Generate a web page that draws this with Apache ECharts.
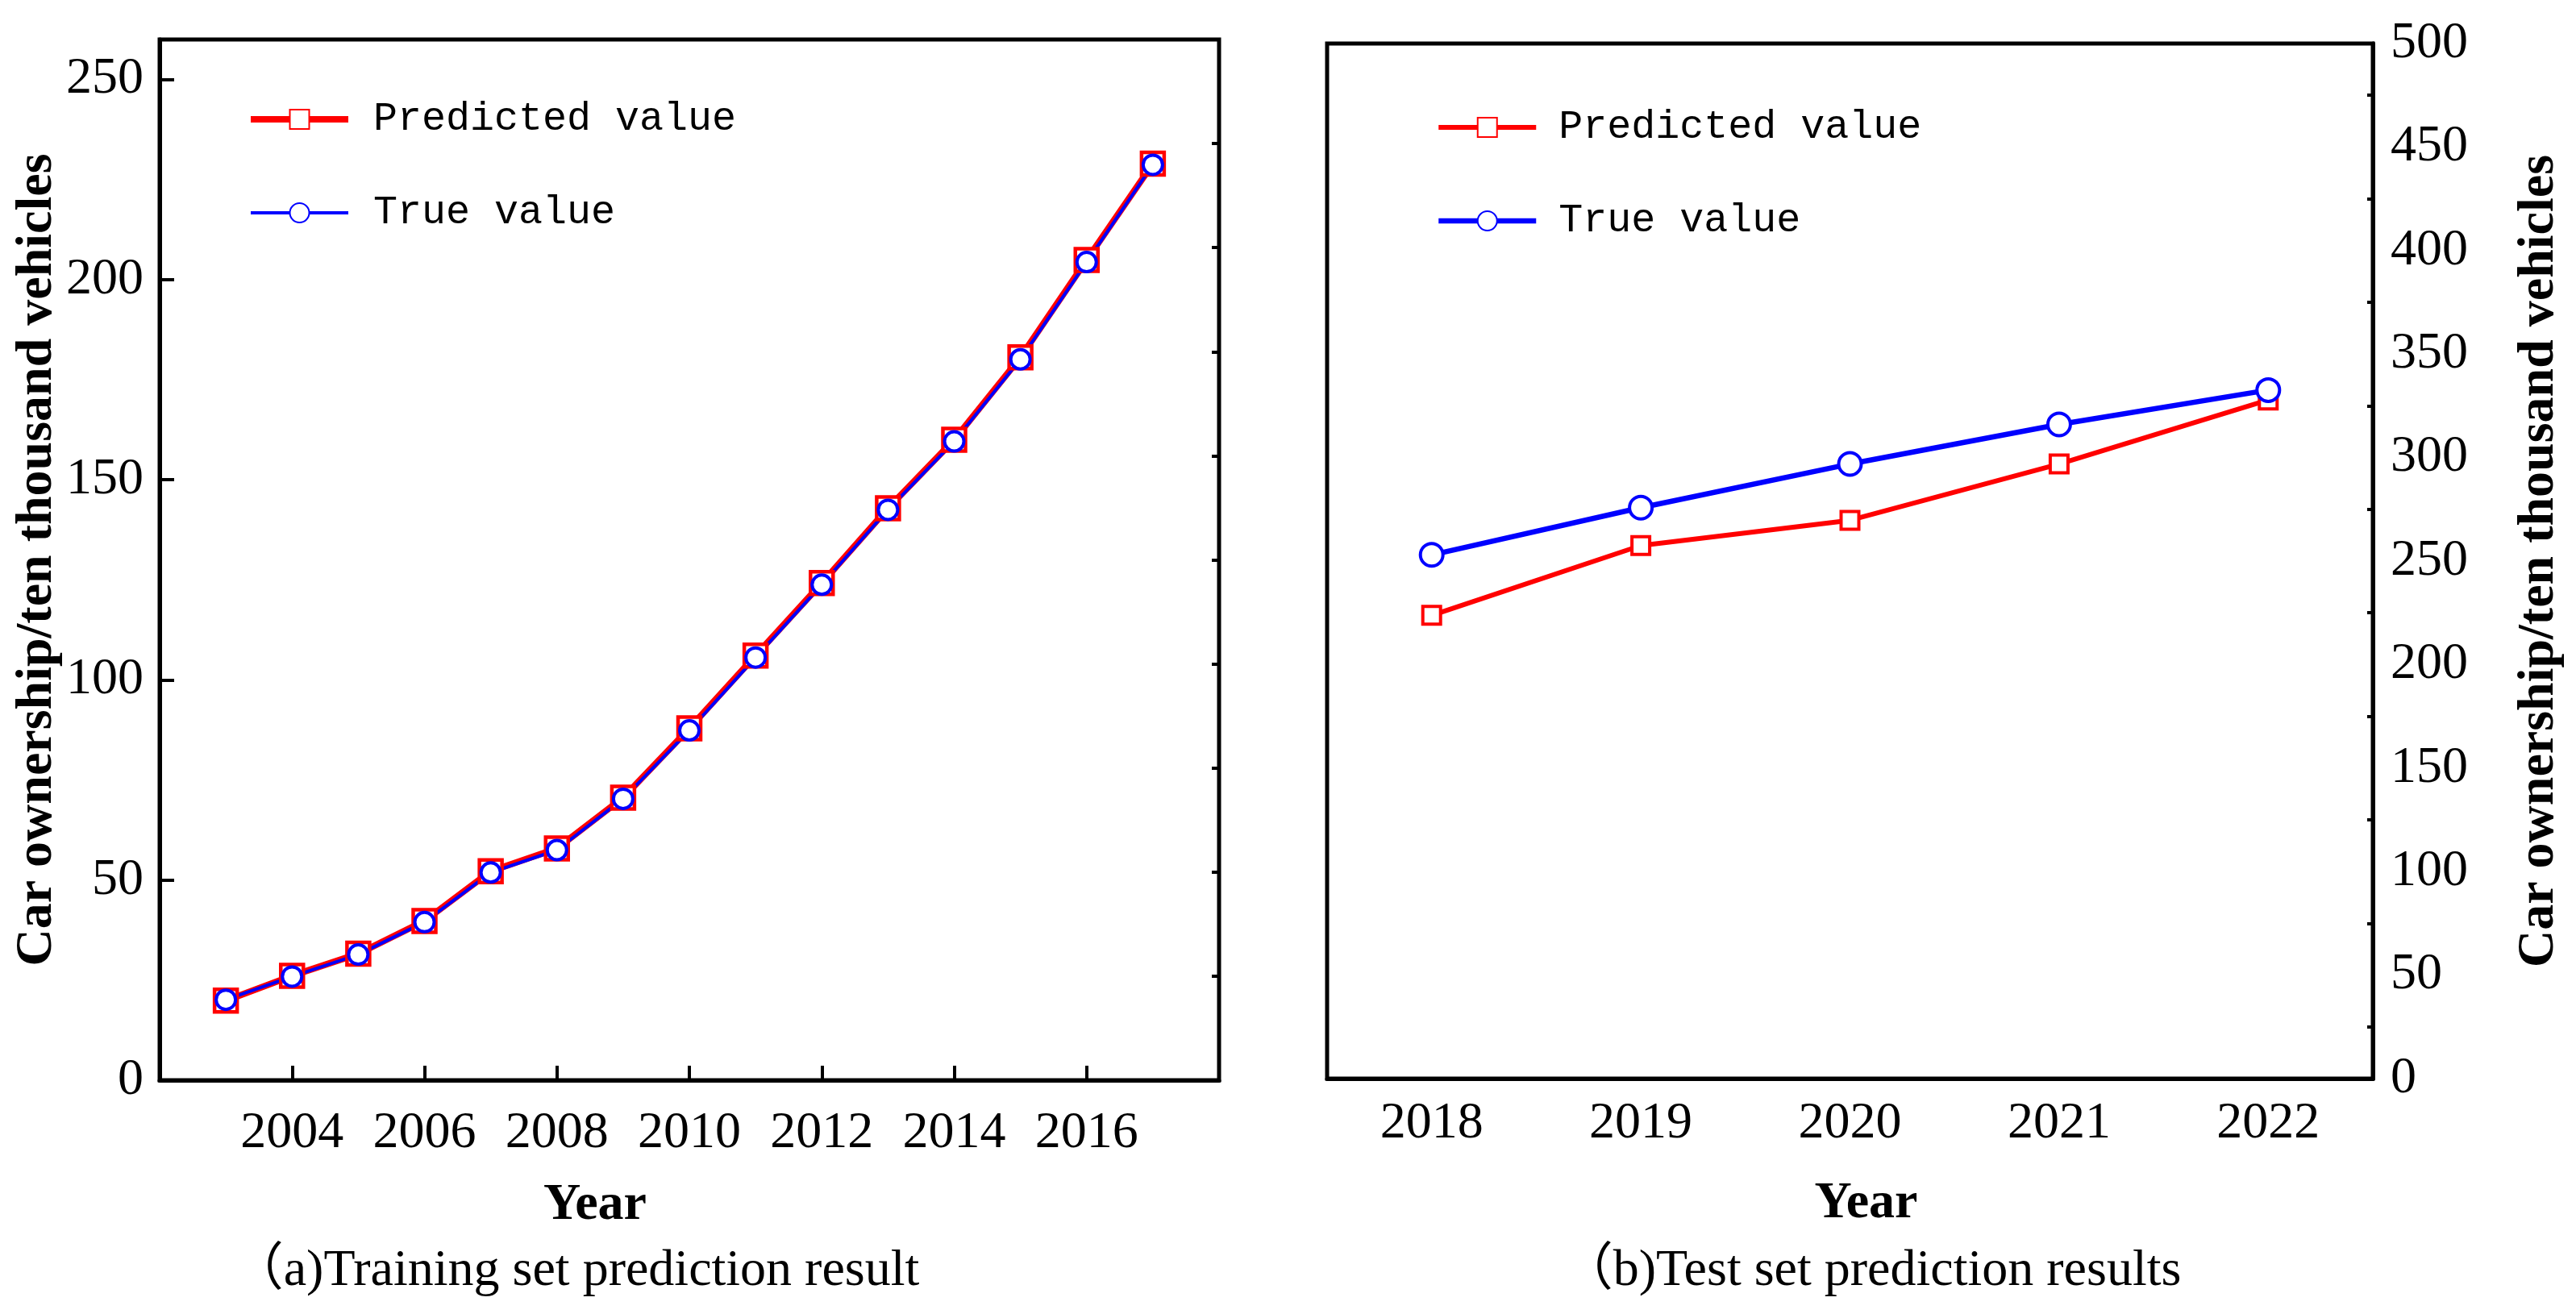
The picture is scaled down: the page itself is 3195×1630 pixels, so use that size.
<!DOCTYPE html>
<html>
<head>
<meta charset="utf-8">
<title>Car ownership prediction</title>
<script src="https://cdn.jsdelivr.net/npm/echarts@6/dist/echarts.min.js"></script>
<style>
  html, body { margin: 0; padding: 0; background: #fff; }
  #chart { width: 3195px; height: 1630px; }
</style>
</head>
<body>
<div id="chart"></div>
<script>
// training set (a)
var trainYears = [2003, 2004, 2005, 2006, 2007, 2008, 2009, 2010, 2011, 2012, 2013, 2014, 2015, 2016, 2017];
var trainPredicted = [19.9, 26.1, 31.6, 39.8, 52.2, 57.9, 70.6, 87.9, 106.1, 124.2, 142.9, 160.0, 180.6, 204.9, 229.0];
var trainTrue = [20.1, 25.9, 31.4, 39.5, 51.9, 57.5, 70.3, 87.4, 105.6, 123.8, 142.5, 159.6, 180.1, 204.4, 228.7];

// test set (b)
var testYears = ['2018', '2019', '2020', '2021', '2022'];
var testPredicted = [223.8, 257.5, 269.7, 296.9, 327.8];
var testTrue = [253.0, 275.8, 296.9, 316.0, 332.6];

var seriesNames = ['Predicted value', 'True value'];
var captions = ['（a)Training set prediction result', '（b)Test set prediction results'];
var yTitle = 'Car ownership/ten thousand vehicles';
var xTitle = 'Year';

var SERIF = "'Liberation Serif', 'Times New Roman', 'Noto Sans CJK SC', serif";
var MONO = "'Liberation Mono', 'DejaVu Sans Mono', monospace";

var extend = echarts.util.extend;

var pairs = function(xs, ys){
	var out = [];
	for (var i = 0; i < xs.length; i++) out.push([xs[i], ys[i]]);
	return out;
};

//图例项: 线宽与系列一致
var legendItems = function(widths){
	return seriesNames.map(function(n, i){
		return { name: n, lineStyle: { width: widths[i] } };
	});
};

var frameLine = { show: true, lineStyle: { color: '#000', width: 5 } };
var titleStyle = { color: '#000', fontFamily: SERIF, fontSize: 64, fontWeight: 'bold' };
var captionStyle = { color: '#000', fontFamily: SERIF, fontSize: 64, fontWeight: 'normal' };
var legendText = { color: '#000', fontFamily: MONO, fontSize: 50 };

var chart = echarts.init(document.getElementById('chart'), null, { renderer: 'canvas' });

chart.setOption({
	backgroundColor: '#fff',
	animation: false,
	title: [
		{ text: captions[0], left: 709, top: 1540, textAlign: 'center', textStyle: captionStyle },
		{ text: captions[1], left: 2316, top: 1540, textAlign: 'center', textStyle: captionStyle }
	],
	legend: [
		{ data: legendItems([8, 4]), orient: 'vertical', left: 302, top: 118,
		  itemWidth: 121, itemHeight: 30, itemGap: 66,
		  textStyle: extend({ padding: [0, 0, 0, 26] }, legendText) },
		{ data: legendItems([6, 6.5]), orient: 'vertical', left: 1776, top: 128,
		  itemWidth: 121, itemHeight: 30, itemGap: 66,
		  textStyle: extend({ padding: [0, 0, 0, 23] }, legendText) }
	],
	grid: [
		{ left: 198, top: 49, width: 1314, height: 1291, show: true, borderColor: '#000', borderWidth: 5, backgroundColor: 'transparent' },
		{ left: 1646, top: 54, width: 1297, height: 1284, show: true, borderColor: '#000', borderWidth: 5, backgroundColor: 'transparent' }
	],
	xAxis: [
		{ gridIndex: 0, type: 'value', min: 2002, max: 2018, interval: 2,
		  axisLine: frameLine,
		  axisTick: { inside: true, length: 18, lineStyle: { color: '#000', width: 4 } },
		  axisLabel: { color: '#000', fontFamily: SERIF, fontSize: 64, margin: 34,
		               showMinLabel: false, showMaxLabel: false,
		               formatter: function(v){ return String(v); } },
		  splitLine: { show: false },
		  name: xTitle, nameLocation: 'middle', nameGap: 123,
		  nameTextStyle: extend({ padding: [0, 234, 0, 0] }, titleStyle) },
		{ gridIndex: 1, type: 'category', data: testYears, boundaryGap: true,
		  axisLine: frameLine,
		  axisTick: { inside: true, alignWithLabel: true, length: 18, lineStyle: { color: '#000', width: 4 } },
		  axisLabel: { color: '#000', fontFamily: SERIF, fontSize: 64, margin: 24 },
		  splitLine: { show: false },
		  name: xTitle, nameLocation: 'middle', nameGap: 123,
		  nameTextStyle: extend({ padding: [0, 0, 0, 40] }, titleStyle) }
	],
	yAxis: [
		{ gridIndex: 0, type: 'value', min: 0, max: 260, interval: 50,
		  axisLine: frameLine,
		  axisTick: { inside: true, length: 18, lineStyle: { color: '#000', width: 4 } },
		  axisLabel: { color: '#000', fontFamily: SERIF, fontSize: 64, margin: 20, showMaxLabel: false },
		  splitLine: { show: false },
		  name: yTitle, nameLocation: 'middle', nameGap: 114, nameRotate: 90,
		  nameTextStyle: titleStyle },
		//左图的次刻度
		{ gridIndex: 0, type: 'value', min: 0, max: 250, interval: 25,
		  axisLine: { show: false },
		  axisTick: { inside: true, length: 9, lineStyle: { color: '#000', width: 4 } },
		  axisLabel: { show: false },
		  splitLine: { show: false } },
		{ gridIndex: 1, type: 'value', position: 'right', min: 0, max: 500, interval: 50,
		  axisLine: frameLine,
		  axisTick: { inside: true, length: 15, lineStyle: { color: '#000', width: 4 } },
		  minorTick: { show: true, splitNumber: 2, length: 7, lineStyle: { color: '#000', width: 4 } },
		  axisLabel: { color: '#000', fontFamily: SERIF, fontSize: 64, margin: 22 },
		  splitLine: { show: false },
		  name: yTitle, nameLocation: 'middle', nameGap: 174, nameRotate: 90,
		  nameTextStyle: titleStyle }
	],
	series: [
		{ name: seriesNames[0], type: 'line', xAxisIndex: 0, yAxisIndex: 0,
		  data: pairs(trainYears, trainPredicted),
		  symbol: 'rect', symbolSize: 28,
		  lineStyle: { color: '#ff0000', width: 8 },
		  itemStyle: { color: '#fff', borderColor: '#ff0000', borderWidth: 4.5 } },
		{ name: seriesNames[1], type: 'line', xAxisIndex: 0, yAxisIndex: 0,
		  data: pairs(trainYears, trainTrue),
		  symbol: 'circle', symbolSize: 24,
		  lineStyle: { color: '#0000ff', width: 4 },
		  itemStyle: { color: '#fff', borderColor: '#0000ff', borderWidth: 4 } },
		{ name: seriesNames[0], type: 'line', xAxisIndex: 1, yAxisIndex: 2,
		  data: testPredicted,
		  symbol: 'rect', symbolSize: 22,
		  lineStyle: { color: '#ff0000', width: 6 },
		  itemStyle: { color: '#fff', borderColor: '#ff0000', borderWidth: 4 } },
		{ name: seriesNames[1], type: 'line', xAxisIndex: 1, yAxisIndex: 2,
		  data: testTrue,
		  symbol: 'circle', symbolSize: 28,
		  lineStyle: { color: '#0000ff', width: 6.5 },
		  itemStyle: { color: '#fff', borderColor: '#0000ff', borderWidth: 4 } }
	]
});
</script>
</body>
</html>
